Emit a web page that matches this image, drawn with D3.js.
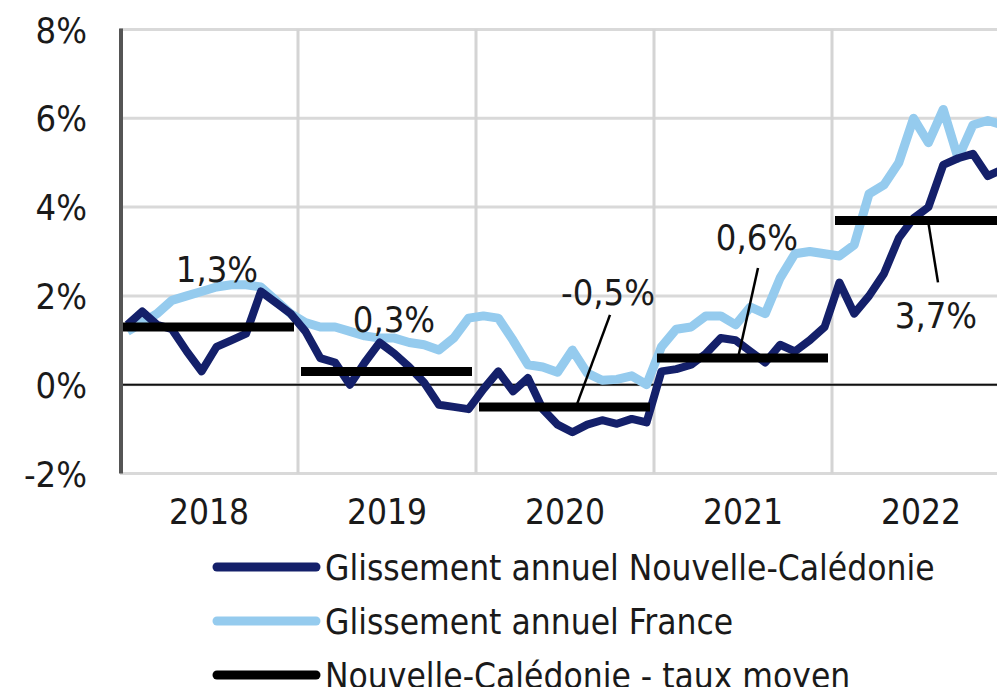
<!DOCTYPE html>
<html>
<head>
<meta charset="utf-8">
<script src="https://cdn.jsdelivr.net/npm/d3@7"></script>
<style>
  body { margin: 0; background: #fff; }
  svg { display: block; }
  text { font-family: 'DejaVu Sans Condensed', 'DejaVu Sans', sans-serif; fill: #1a1a1a; }
</style>
</head>
<body>
<script>
// values, one per month, 2018-2022
const years = ["2018", "2019", "2020", "2021", "2022"];
const nc_glissement = [
  1.35, 1.65, 1.35, 1.25, 0.75, 0.3, 0.85, 1.0, 1.15, 2.1, 1.85, 1.6,
  1.2, 0.6, 0.5, 0.0, 0.5, 0.95, 0.7, 0.4, 0.05, -0.45, -0.5, -0.55,
  -0.1, 0.3, -0.15, 0.15, -0.55, -0.9, -1.07, -0.9, -0.8, -0.88, -0.77, -0.85,
  0.3, 0.35, 0.45, 0.7, 1.05, 1.0, 0.75, 0.5, 0.9, 0.75, 1.0, 1.3,
  2.3, 1.6, 2.0, 2.5, 3.3, 3.75, 4.0, 4.95, 5.1, 5.2, 4.7, 4.85
];
const fr_glissement = [
  1.2, 1.4, 1.6, 1.9, 2.0, 2.1, 2.2, 2.25, 2.25, 2.2, 1.9, 1.6,
  1.4, 1.3, 1.3, 1.2, 1.1, 1.05, 1.05, 0.95, 0.9, 0.78, 1.05, 1.5,
  1.55, 1.5, 1.0, 0.45, 0.4, 0.28, 0.78, 0.26, 0.1, 0.12, 0.2, 0.0,
  0.85, 1.25, 1.3, 1.55, 1.55, 1.35, 1.75, 1.6, 2.4, 2.95, 3.0, 2.95,
  2.9, 3.15, 4.3, 4.5, 5.0, 6.0, 5.45, 6.2, 5.1, 5.85, 5.95, 5.85
];
const nc_moyen = [1.3, 0.3, -0.5, 0.6, 3.7];
const moyen_labels = ["1,3%", "0,3%", "-0,5%", "0,6%", "3,7%"];
const y_ticks = [-2, 0, 2, 4, 6, 8];
const legend_names = [
  "Glissement annuel Nouvelle-Calédonie",
  "Glissement annuel France",
  "Nouvelle-Calédonie - taux moyen"
];

const W = 997, H = 687;
const plot_left = 120, plot_top = 29.5, plot_bottom = 473.5, yearW = 178;
const navy = "#14206a", sky = "#95cbee";

const svg = d3.select("body").append("svg")
    .attr("width", W)
    .attr("height", H);

const x = d3.scaleLinear().domain([0, 60]).range([plot_left, plot_left + 60 * yearW / 12]);
const y = d3.scaleLinear().domain([-2, 8]).range([plot_bottom, plot_top]);

// grid
svg.append("g").selectAll("line")
  .data(y_ticks)
  .enter().append("line")
    .attr("x1", plot_left).attr("x2", W)
    .attr("y1", d => y(d)).attr("y2", d => y(d))
    .style("stroke", "#d9d9d9").style("stroke-width", 3);
svg.append("g").selectAll("line")
  .data(d3.range(1, years.length))
  .enter().append("line")
    .attr("x1", d => x(d * 12)).attr("x2", d => x(d * 12))
    .attr("y1", plot_top).attr("y2", plot_bottom)
    .style("stroke", "#d4d4d4").style("stroke-width", 3);

// 0% line
svg.append("line")
    .attr("x1", plot_left).attr("x2", W)
    .attr("y1", y(0)).attr("y2", y(0))
    .style("stroke", "#111").style("stroke-width", 2);

// y axis line
svg.append("line")
    .attr("x1", plot_left + 1).attr("x2", plot_left + 1)
    .attr("y1", plot_top - 1).attr("y2", plot_bottom)
    .style("stroke", "#555").style("stroke-width", 4);

// tick labels
svg.append("g").selectAll("text")
  .data(y_ticks)
  .enter().append("text")
    .attr("x", 87).attr("y", d => y(d) + 13)
    .attr("text-anchor", "end")
    .style("font-size", "36px")
    .text(d => d + "%");

svg.append("g").selectAll("text")
  .data(years)
  .enter().append("text")
    .attr("x", (d, i) => x(i * 12 + 6))
    .attr("y", 524)
    .attr("text-anchor", "middle")
    .style("font-size", "35px")
    .text(d => d);

const value_line = d3.line()
    .x((d, i) => x(i + 0.5))
    .y(d => y(d));

svg.append("path")
    .datum(fr_glissement)
    .attr("d", value_line)
    .style("fill", "none").style("stroke", sky)
    .style("stroke-width", 9).style("stroke-linejoin", "round");

svg.append("path")
    .datum(nc_glissement)
    .attr("d", value_line)
    .style("fill", "none").style("stroke", navy)
    .style("stroke-width", 8).style("stroke-linejoin", "round");

// yearly average bars
svg.append("g").selectAll("line")
  .data(nc_moyen)
  .enter().append("line")
    .attr("x1", (d, i) => x(i * 12) + 3)
    .attr("x2", (d, i) => x(i * 12 + 12) - 4)
    .attr("y1", d => y(d)).attr("y2", d => y(d))
    .style("stroke", "#000").style("stroke-width", 9);

// labels, offsets from the bar centre
const lab_off = [[8, -45], [7, -39], [43, -102], [14, -108], [15, 108]];
const leaders = [null, null, [11, 45, -92], [-5, 15, -90], [7, 17, 62]];

leaders.forEach(function(l, i) {
  if (!l) return;
  const cx = x(i * 12 + 6), cy = y(nc_moyen[i]);
  svg.append("line")
      .attr("x1", cx + l[0]).attr("y1", cy)
      .attr("x2", cx + l[1]).attr("y2", cy + l[2])
      .style("stroke", "#000").style("stroke-width", 2.5);
});

svg.append("g").selectAll("text")
  .data(moyen_labels)
  .enter().append("text")
    .attr("x", (d, i) => x(i * 12 + 6) + lab_off[i][0])
    .attr("y", (d, i) => y(nc_moyen[i]) + lab_off[i][1])
    .attr("text-anchor", "middle")
    .style("font-size", "36px")
    .text(d => d);

// legend
const leg_colors = [navy, sky, "#000"];
const leg = svg.append("g").selectAll("g")
  .data(legend_names)
  .enter().append("g")
    .attr("transform", (d, i) => "translate(0," + (567 + i * 54) + ")");
leg.append("line")
    .attr("x1", 217).attr("x2", 316)
    .style("stroke", (d, i) => leg_colors[i])
    .style("stroke-width", 9).style("stroke-linecap", "round");
leg.append("text")
    .attr("x", 325).attr("y", 13)
    .style("font-size", "35px")
    .text(d => d);
</script>
</body>
</html>
